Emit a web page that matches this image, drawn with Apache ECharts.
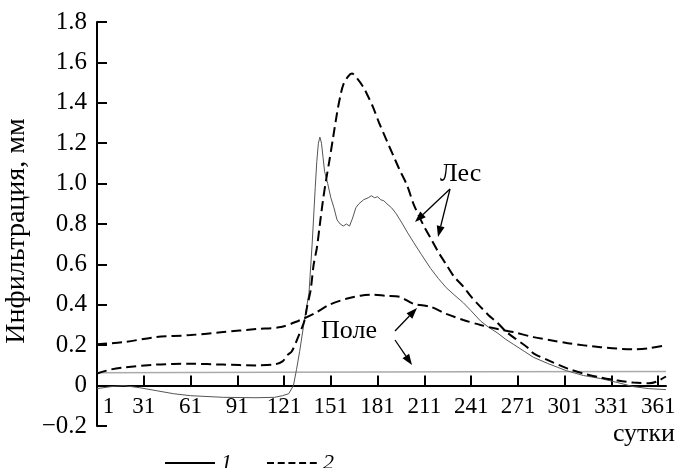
<!DOCTYPE html>
<html>
<head>
<meta charset="utf-8">
<script src="https://cdn.jsdelivr.net/npm/echarts@6/dist/echarts.min.js"></script>
<style>
  html, body { margin: 0; padding: 0; background: #fff; }
  #main { width: 677px; height: 468px; }
</style>
</head>
<body>
<div id="main"></div>
<script>
// Лес, модель 1 (сплошная)
var forestDays1 = [1, 10, 18, 28, 39, 50, 61, 82, 103, 115, 120, 124, 127, 129, 131, 134, 137, 139, 141, 142, 143, 144, 145, 146, 147, 149, 151, 153, 155, 157, 159, 161, 163, 165, 167, 169, 172, 175, 177, 179, 181, 183, 185, 187, 190, 193, 197, 200, 204, 209, 215, 220, 225, 230, 236, 241, 247, 252, 258, 263, 268, 275, 281, 290, 302, 313, 324, 335, 345, 355, 366];
var forestInf1 = [-0.015, -0.005, 0.0, -0.01, -0.025, -0.04, -0.05, -0.058, -0.06, -0.058, -0.05, -0.04, 0.0, 0.08, 0.17, 0.32, 0.46, 0.7, 0.98, 1.11, 1.2, 1.23, 1.2, 1.13, 1.06, 1.0, 0.93, 0.88, 0.82, 0.80, 0.79, 0.80, 0.79, 0.83, 0.88, 0.90, 0.92, 0.93, 0.94, 0.93, 0.935, 0.92, 0.915, 0.90, 0.88, 0.85, 0.80, 0.76, 0.71, 0.65, 0.58, 0.53, 0.485, 0.45, 0.41, 0.37, 0.32, 0.29, 0.26, 0.23, 0.205, 0.17, 0.14, 0.11, 0.074, 0.05, 0.035, 0.015, -0.005, -0.015, -0.02];

// Лес, модель 2 (штрих)
var forestDays2 = [1, 10, 18, 39, 61, 82, 103, 115, 120, 123, 126, 130, 134, 136, 138, 140, 142, 144, 146, 148, 150, 152.5, 155, 157, 159, 162, 164.5, 168, 172, 175, 178, 182, 187, 191, 195, 200, 204, 210, 215, 220, 225, 230, 236, 241, 247, 252, 258, 263, 268, 277, 281, 292, 303, 313, 324, 335, 345, 355, 360, 366];
var forestInf2 = [0.06, 0.08, 0.09, 0.104, 0.108, 0.104, 0.10, 0.105, 0.12, 0.15, 0.17, 0.24, 0.32, 0.40, 0.47, 0.60, 0.68, 0.80, 0.92, 1.02, 1.11, 1.23, 1.35, 1.43, 1.49, 1.53, 1.545, 1.52, 1.475, 1.43, 1.38, 1.30, 1.21, 1.14, 1.07, 0.99, 0.90, 0.80, 0.73, 0.66, 0.60, 0.54, 0.49, 0.44, 0.39, 0.35, 0.31, 0.27, 0.24, 0.19, 0.16, 0.12, 0.084, 0.06, 0.04, 0.025, 0.015, 0.012, 0.02, 0.045];

// Поле, модель 1 (сплошная)
var fieldDays1 = [1, 120, 240, 366];
var fieldInf1 = [0.063, 0.066, 0.068, 0.07];

// Поле, модель 2 (штрих)
var fieldDays2 = [1, 18, 39, 61, 82, 103, 119, 130, 140, 150, 161, 170, 178, 186, 195, 204, 215, 225, 236, 247, 258, 268, 281, 292, 303, 324, 345, 355, 366];
var fieldInf2 = [0.205, 0.215, 0.24, 0.25, 0.265, 0.28, 0.29, 0.32, 0.355, 0.40, 0.43, 0.445, 0.45, 0.445, 0.44, 0.405, 0.39, 0.355, 0.325, 0.30, 0.28, 0.265, 0.24, 0.225, 0.21, 0.19, 0.18, 0.185, 0.20];

var xTicks = [1, 31, 61, 91, 121, 151, 181, 211, 241, 271, 301, 331, 361];
var yMin = -0.2, yMax = 1.8;

function pairs(xs, ys) {
    return xs.map(function (x, i) { return [x, ys[i]]; });
}

function arrow(x1, y1, x2, y2) {
    var ang = Math.atan2(y2 - y1, x2 - x1);
    var len = 11, w = 4;
    var bx = x2 - len * Math.cos(ang), by = y2 - len * Math.sin(ang);
    var nx = -Math.sin(ang) * w, ny = Math.cos(ang) * w;
    return [
        { type: 'line', shape: { x1: x1, y1: y1, x2: bx, y2: by }, style: { stroke: '#000', lineWidth: 1.3 } },
        { type: 'polygon', shape: { points: [[x2, y2], [bx + nx, by + ny], [bx - nx, by - ny]] }, style: { fill: '#000' } }
    ];
}

var font = 'Liberation Serif';
var gridTop = 22, gridBottom = 42, H = 468;
// x axis sits on y = 0
var zeroOffset = -(0 - yMin) / (yMax - yMin) * (H - gridTop - gridBottom);

var chart = echarts.init(document.getElementById('main'));
var dash = [10, 5];

var option = {
    animation: false,
    backgroundColor: '#fff',
    grid: { left: 97, right: 11, top: gridTop, bottom: gridBottom, outerBoundsMode: 'none' },
    legend: {
        left: 160,
        top: 447,
        itemWidth: 52,
        itemHeight: 2,
        itemGap: 35,
        textStyle: { fontFamily: font, fontSize: 22, fontStyle: 'italic', color: '#000' },
        data: [
            { name: '1', icon: 'path://M0,0h50v2h-50z', itemStyle: { color: '#000' } },
            { name: '2', icon: 'path://M0,0h7v2h-7z M10.7,0h7v2h-7z M21.4,0h7v2h-7z M32.1,0h7v2h-7z M42.8,0h7v2h-7z', itemStyle: { color: '#000' } }
        ]
    },
    xAxis: {
        type: 'value',
        min: 1,
        max: 366,
        interval: 30,
        offset: zeroOffset,
        axisLine: { onZero: false, lineStyle: { color: '#000', width: 2 } },
        axisTick: { inside: true, length: 10, customValues: xTicks, lineStyle: { color: '#000', width: 2 } },
        axisLabel: {
            customValues: xTicks, alignMinLabel: 'left', margin: 10,
            fontFamily: font, fontSize: 23, color: '#000',
            formatter: function (v) { return v === 1 ? ' 1' : String(v); }
        },
        splitLine: { show: false }
    },
    yAxis: {
        type: 'value',
        min: yMin,
        max: yMax,
        interval: 0.2,
        name: 'Инфильтрация, мм',
        nameLocation: 'middle',
        nameGap: 56,
        nameTextStyle: { fontFamily: font, fontSize: 28, color: '#000', padding: [0, 14, 0, 0] },
        axisLine: { show: true, lineStyle: { color: '#000', width: 2 } },
        axisTick: { show: true, inside: true, length: 10, lineStyle: { color: '#000', width: 2 } },
        axisLabel: {
            margin: 10,
            fontFamily: font, fontSize: 25, color: '#000',
            formatter: function (v) {
                if (Math.abs(v) < 1e-9) return '0';
                return (v < 0 ? '\u2212' : '') + Math.abs(v).toFixed(1);
            }
        },
        splitLine: { show: false }
    },
    series: [
        {
            name: '1', type: 'line', symbol: 'none',
            data: pairs(fieldDays1, fieldInf1),
            lineStyle: { color: '#aaa', width: 1.5 }, itemStyle: { color: '#000' }
        },
        {
            name: '1', type: 'line', symbol: 'none',
            data: pairs(forestDays1, forestInf1),
            lineStyle: { color: '#555', width: 1 }, itemStyle: { color: '#000' }
        },
        {
            name: '2', type: 'line', symbol: 'none', smooth: 0.3,
            data: pairs(fieldDays2, fieldInf2),
            lineStyle: { color: '#000', width: 2, type: dash }, itemStyle: { color: '#000' }
        },
        {
            name: '2', type: 'line', symbol: 'none', smooth: 0.3,
            data: pairs(forestDays2, forestInf2),
            lineStyle: { color: '#000', width: 2, type: dash }, itemStyle: { color: '#000' }
        }
    ],
    graphic: [
        { type: 'text', left: 440, top: 161, style: { text: 'Лес', font: '26px "Liberation Serif"', fill: '#000' } },
        { type: 'text', left: 321, top: 318, style: { text: 'Поле', font: '26px "Liberation Serif"', fill: '#000' } },
        { type: 'text', right: 2, top: 421, style: { text: 'сутки', font: '26px "Liberation Serif"', fill: '#000' } }
    ]
        .concat(arrow(450, 189, 415, 222))
        .concat(arrow(450, 189, 438, 237))
        .concat(arrow(395, 331, 417, 308))
        .concat(arrow(395, 340, 412, 365))
};

chart.setOption(option);
</script>
</body>
</html>
